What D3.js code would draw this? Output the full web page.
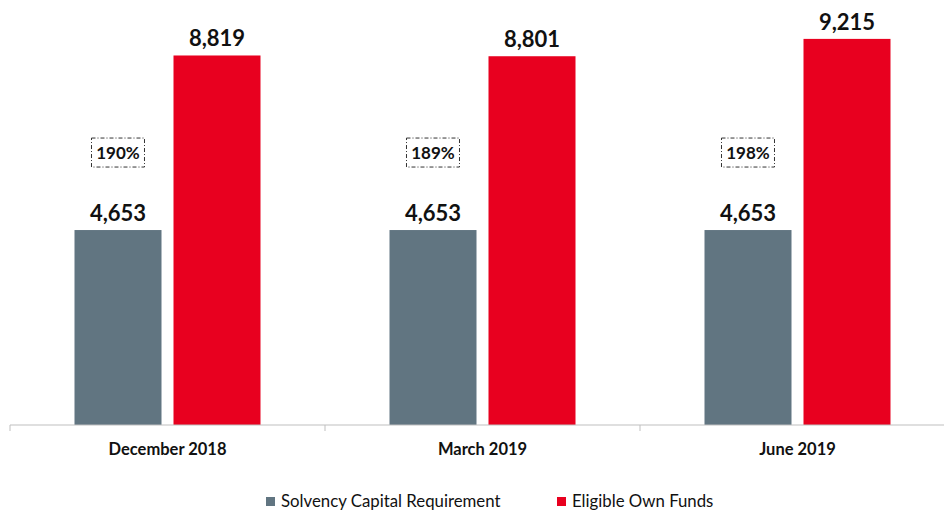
<!DOCTYPE html>
<html>
<head>
<meta charset="utf-8">
<script src="https://cdn.jsdelivr.net/npm/d3@7"></script>
<style>
body { margin: 0; background: #fff; }
text { font-family: Lato, "Open Sans", sans-serif; fill: #111; }
</style>
</head>
<body>
<script>
// data
var categories = ["December 2018", "March 2019", "June 2019"];
var seriesNames = ["Solvency Capital Requirement", "Eligible Own Funds"];
var scrValues = [4653, 4653, 4653];
var ownFundsValues = [8819, 8801, 9215];
var ratioLabels = ["190%", "189%", "198%"];

var width = 944, height = 511;
var colors = ["#617581", "#e8001f"];

var svg = d3.select("body").append("svg")
    .attr("width", width)
    .attr("height", height);

var x0 = d3.scaleBand()
    .domain(categories)
    .range([10, 955])
    .paddingInner(0)
    .paddingOuter(0);

var x1 = d3.scaleBand()
    .domain(seriesNames)
    .range([0, x0.bandwidth()])
    .paddingInner(0.1212)
    .paddingOuter(0.6515);

var y = d3.scaleLinear()
    .domain([0, 10000])
    .range([425, 6]);

var rows = categories.map(function(c, i) {
    return {cat: c, vals: [scrValues[i], ownFundsValues[i]], ratio: ratioLabels[i]};
});

var groups = svg.selectAll("g.grp")
    .data(rows)
    .enter().append("g")
    .attr("class", "grp")
    .attr("transform", function(d) { return "translate(" + x0(d.cat) + ",0)"; });

groups.selectAll("rect")
    .data(function(d) { return d.vals.map(function(v, j) { return {name: seriesNames[j], v: v, j: j}; }); })
    .enter().append("rect")
    .attr("x", function(d) { return x1(d.name); })
    .attr("width", x1.bandwidth())
    .attr("y", function(d) { return y(d.v); })
    .attr("height", function(d) { return y(0) - y(d.v); })
    .attr("fill", function(d) { return colors[d.j]; });

groups.selectAll("text.val")
    .data(function(d) { return d.vals.map(function(v, j) { return {name: seriesNames[j], v: v}; }); })
    .enter().append("text")
    .attr("class", "val")
    .attr("x", function(d) { return x1(d.name) + x1.bandwidth()/2; })
    .attr("y", function(d) { return y(d.v) - 9; })
    .attr("text-anchor", "middle")
    .attr("font-size", 22)
    .attr("font-weight", "bold")
    .text(function(d) { return d3.format(",")(d.v); });

// ratio box over the SCR bar
var boxW = 53, boxH = 29;
groups.append("rect")
    .attr("x", x1(seriesNames[0]) + x1.bandwidth()/2 - boxW/2)
    .attr("y", function(d) { return y(d.vals[0]) - 92; })
    .attr("width", boxW)
    .attr("height", boxH)
    .attr("fill", "none")
    .attr("stroke", "#333")
    .attr("stroke-width", 1)
    .attr("stroke-dasharray", "4,2,1,2");

groups.append("text")
    .attr("x", x1(seriesNames[0]) + x1.bandwidth()/2)
    .attr("y", function(d) { return y(d.vals[0]) - 92 + boxH/2 + 6; })
    .attr("text-anchor", "middle")
    .attr("font-size", 17)
    .attr("font-weight", "bold")
    .text(function(d) { return d.ratio; });

// axis
var axis = svg.append("g")
    .attr("transform", "translate(0," + y(0) + ")")
    .call(d3.axisBottom(x0).tickSize(0).tickPadding(18));
axis.select(".domain").attr("stroke", "#bfbfbf").attr("d", "M10,0H955");
axis.selectAll("text")
    .attr("font-size", 16.5)
    .attr("font-weight", "bold")
    .attr("fill", "#111")
    .style("font-family", "Lato, 'Open Sans', sans-serif");
axis.selectAll(".edge")
    .data(categories.concat(["end"]))
    .enter().append("line")
    .attr("x1", function(d, i) { return i < categories.length ? x0(d) : x0.range()[1]; })
    .attr("x2", function(d, i) { return i < categories.length ? x0(d) : x0.range()[1]; })
    .attr("y1", 0).attr("y2", 6)
    .attr("stroke", "#bfbfbf");

// legend
var legendX = [266, 557];
var legend = svg.selectAll("g.leg")
    .data(seriesNames)
    .enter().append("g")
    .attr("class", "leg")
    .attr("transform", function(d, i) { return "translate(" + legendX[i] + ",497)"; });
legend.append("rect")
    .attr("width", 9).attr("height", 9)
    .attr("fill", function(d, i) { return colors[i]; });
legend.append("text")
    .attr("x", 15)
    .attr("y", 10)
    .attr("font-size", 16.8)
    .text(function(d) { return d; });
</script>
</body>
</html>
